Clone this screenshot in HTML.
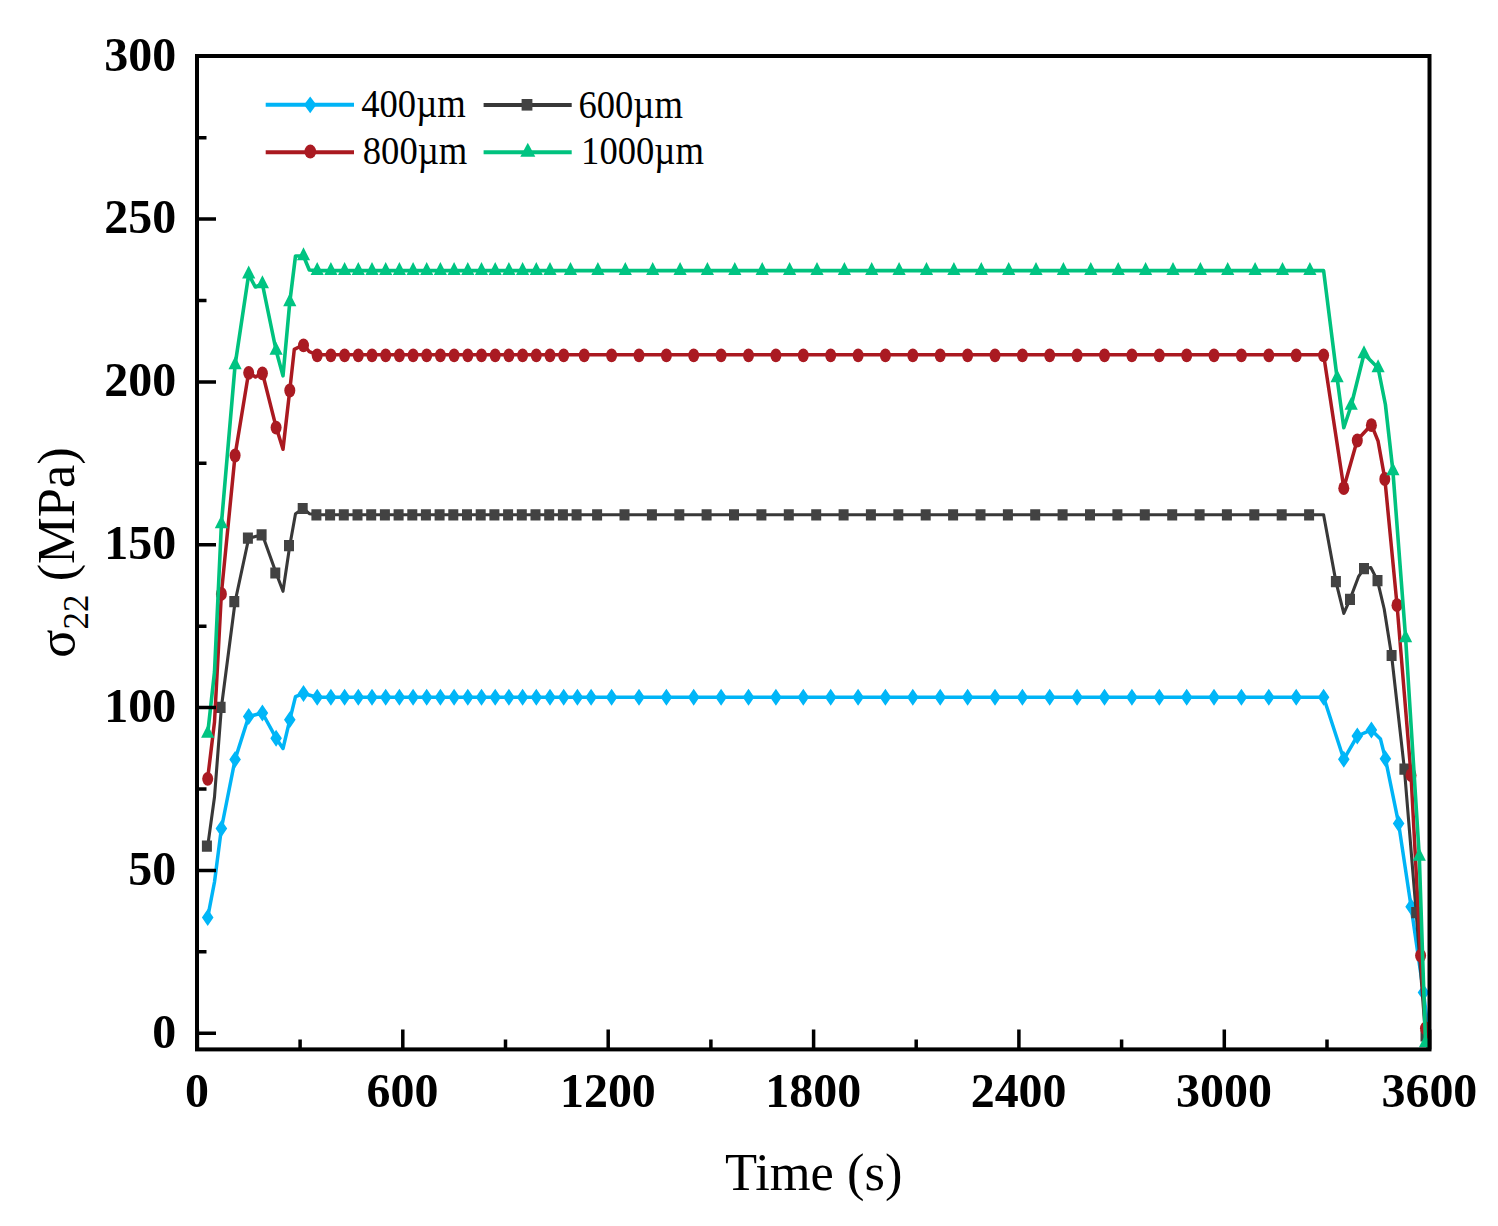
<!DOCTYPE html>
<html><head><meta charset="utf-8"><style>
html,body{margin:0;padding:0;background:#fff;}
svg{display:block;}
text{font-family:"Liberation Serif",serif;fill:#000;}
</style></head><body>
<svg width="1498" height="1226" viewBox="0 0 1498 1226">
<rect width="1498" height="1226" fill="#fff"/>
<defs><clipPath id="pc"><rect x="197.0" y="56.0" width="1232.5" height="993.4000000000001"/></clipPath></defs>
<g clip-path="url(#pc)">
<path d="M207.7 917.4L214.5 882.0L221.4 828.5L235.1 759.4L248.7 716.5L262.4 713.0L276.1 738.2L283.0 748.5L289.8 719.8L295.5 696.6L303.5 693.5L317.2 697.2L330.9 697.2L344.6 697.2L358.3 697.2L372.0 697.2L385.7 697.2L399.4 697.2L413.1 697.2L426.7 697.2L440.4 697.2L454.1 697.2L467.8 697.2L481.5 697.2L495.2 697.2L508.9 697.2L522.6 697.2L536.3 697.2L550.0 697.2L563.7 697.2L577.4 697.2L591.1 697.2L604.7 697.2L618.4 697.2L632.1 697.2L645.8 697.2L659.5 697.2L673.2 697.2L686.9 697.2L700.6 697.2L714.3 697.2L728.0 697.2L741.7 697.2L755.4 697.2L769.1 697.2L782.7 697.2L796.4 697.2L810.1 697.2L823.8 697.2L837.5 697.2L851.2 697.2L864.9 697.2L878.6 697.2L892.3 697.2L906.0 697.2L919.7 697.2L933.4 697.2L947.1 697.2L960.7 697.2L974.4 697.2L988.1 697.2L1001.8 697.2L1015.5 697.2L1029.2 697.2L1042.9 697.2L1056.6 697.2L1070.3 697.2L1084.0 697.2L1097.7 697.2L1111.4 697.2L1125.0 697.2L1138.7 697.2L1152.4 697.2L1166.1 697.2L1179.8 697.2L1193.5 697.2L1207.2 697.2L1220.9 697.2L1234.6 697.2L1248.3 697.2L1262.0 697.2L1275.7 697.2L1289.4 697.2L1303.0 697.2L1316.7 697.2L1323.6 697.2L1343.8 759.3L1357.3 736.0L1371.4 729.9L1380.5 739.1L1385.4 758.7L1398.6 823.4L1411.1 906.7L1423.5 992.5L1429.5 1040.0" fill="none" stroke="#00B4F6" stroke-width="3.5" stroke-linejoin="round"/>
<path fill="#00B6F8" d="M207.7 908.9L213.5 917.4L207.7 925.9L201.9 917.4ZM221.4 820.0L227.2 828.5L221.4 837.0L215.6 828.5ZM235.1 750.9L240.9 759.4L235.1 767.9L229.3 759.4ZM248.7 708.0L254.5 716.5L248.7 725.0L242.9 716.5ZM262.4 704.5L268.2 713.0L262.4 721.5L256.6 713.0ZM276.1 729.7L281.9 738.2L276.1 746.7L270.3 738.2ZM289.8 711.3L295.6 719.8L289.8 728.3L284.0 719.8ZM303.5 685.0L309.3 693.5L303.5 702.0L297.7 693.5ZM317.2 688.7L323.0 697.2L317.2 705.7L311.4 697.2ZM330.9 688.7L336.7 697.2L330.9 705.7L325.1 697.2ZM344.6 688.7L350.4 697.2L344.6 705.7L338.8 697.2ZM358.3 688.7L364.1 697.2L358.3 705.7L352.5 697.2ZM372.0 688.7L377.8 697.2L372.0 705.7L366.2 697.2ZM385.7 688.7L391.5 697.2L385.7 705.7L379.9 697.2ZM399.4 688.7L405.2 697.2L399.4 705.7L393.6 697.2ZM413.1 688.7L418.9 697.2L413.1 705.7L407.3 697.2ZM426.7 688.7L432.5 697.2L426.7 705.7L420.9 697.2ZM440.4 688.7L446.2 697.2L440.4 705.7L434.6 697.2ZM454.1 688.7L459.9 697.2L454.1 705.7L448.3 697.2ZM467.8 688.7L473.6 697.2L467.8 705.7L462.0 697.2ZM481.5 688.7L487.3 697.2L481.5 705.7L475.7 697.2ZM495.2 688.7L501.0 697.2L495.2 705.7L489.4 697.2ZM508.9 688.7L514.7 697.2L508.9 705.7L503.1 697.2ZM522.6 688.7L528.4 697.2L522.6 705.7L516.8 697.2ZM536.3 688.7L542.1 697.2L536.3 705.7L530.5 697.2ZM550.0 688.7L555.8 697.2L550.0 705.7L544.2 697.2ZM563.7 688.7L569.5 697.2L563.7 705.7L557.9 697.2ZM577.4 688.7L583.2 697.2L577.4 705.7L571.6 697.2ZM591.1 688.7L596.9 697.2L591.1 705.7L585.3 697.2ZM611.6 688.7L617.4 697.2L611.6 705.7L605.8 697.2ZM639.0 688.7L644.8 697.2L639.0 705.7L633.2 697.2ZM666.4 688.7L672.2 697.2L666.4 705.7L660.6 697.2ZM693.7 688.7L699.5 697.2L693.7 705.7L687.9 697.2ZM721.1 688.7L726.9 697.2L721.1 705.7L715.3 697.2ZM748.5 688.7L754.3 697.2L748.5 705.7L742.7 697.2ZM775.9 688.7L781.7 697.2L775.9 705.7L770.1 697.2ZM803.3 688.7L809.1 697.2L803.3 705.7L797.5 697.2ZM830.7 688.7L836.5 697.2L830.7 705.7L824.9 697.2ZM858.1 688.7L863.9 697.2L858.1 705.7L852.3 697.2ZM885.4 688.7L891.2 697.2L885.4 705.7L879.6 697.2ZM912.8 688.7L918.6 697.2L912.8 705.7L907.0 697.2ZM940.2 688.7L946.0 697.2L940.2 705.7L934.4 697.2ZM967.6 688.7L973.4 697.2L967.6 705.7L961.8 697.2ZM995.0 688.7L1000.8 697.2L995.0 705.7L989.2 697.2ZM1022.4 688.7L1028.2 697.2L1022.4 705.7L1016.6 697.2ZM1049.7 688.7L1055.5 697.2L1049.7 705.7L1043.9 697.2ZM1077.1 688.7L1082.9 697.2L1077.1 705.7L1071.3 697.2ZM1104.5 688.7L1110.3 697.2L1104.5 705.7L1098.7 697.2ZM1131.9 688.7L1137.7 697.2L1131.9 705.7L1126.1 697.2ZM1159.3 688.7L1165.1 697.2L1159.3 705.7L1153.5 697.2ZM1186.7 688.7L1192.5 697.2L1186.7 705.7L1180.9 697.2ZM1214.0 688.7L1219.8 697.2L1214.0 705.7L1208.2 697.2ZM1241.4 688.7L1247.2 697.2L1241.4 705.7L1235.6 697.2ZM1268.8 688.7L1274.6 697.2L1268.8 705.7L1263.0 697.2ZM1296.2 688.7L1302.0 697.2L1296.2 705.7L1290.4 697.2ZM1323.6 688.7L1329.4 697.2L1323.6 705.7L1317.8 697.2ZM1343.8 750.8L1349.6 759.3L1343.8 767.8L1338.0 759.3ZM1357.3 727.5L1363.1 736.0L1357.3 744.5L1351.5 736.0ZM1371.4 721.4L1377.2 729.9L1371.4 738.4L1365.6 729.9ZM1385.4 750.2L1391.2 758.7L1385.4 767.2L1379.6 758.7ZM1398.6 814.9L1404.4 823.4L1398.6 831.9L1392.8 823.4ZM1411.1 898.2L1416.9 906.7L1411.1 915.2L1405.3 906.7ZM1423.5 984.0L1429.3 992.5L1423.5 1001.0L1417.7 992.5Z"/>
<path d="M207.7 846.2L214.5 797.0L221.4 707.3L235.1 601.7L248.7 538.2L262.4 534.8L276.1 573.0L283.0 591.3L289.8 545.6L295.5 513.7L303.5 508.5L309.3 513.7L317.2 514.8L330.9 514.8L344.6 514.8L358.3 514.8L372.0 514.8L385.7 514.8L399.4 514.8L413.1 514.8L426.7 514.8L440.4 514.8L454.1 514.8L467.8 514.8L481.5 514.8L495.2 514.8L508.9 514.8L522.6 514.8L536.3 514.8L550.0 514.8L563.7 514.8L577.4 514.8L591.1 514.8L604.7 514.8L618.4 514.8L632.1 514.8L645.8 514.8L659.5 514.8L673.2 514.8L686.9 514.8L700.6 514.8L714.3 514.8L728.0 514.8L741.7 514.8L755.4 514.8L769.1 514.8L782.7 514.8L796.4 514.8L810.1 514.8L823.8 514.8L837.5 514.8L851.2 514.8L864.9 514.8L878.6 514.8L892.3 514.8L906.0 514.8L919.7 514.8L933.4 514.8L947.1 514.8L960.7 514.8L974.4 514.8L988.1 514.8L1001.8 514.8L1015.5 514.8L1029.2 514.8L1042.9 514.8L1056.6 514.8L1070.3 514.8L1084.0 514.8L1097.7 514.8L1111.4 514.8L1125.0 514.8L1138.7 514.8L1152.4 514.8L1166.1 514.8L1179.8 514.8L1193.5 514.8L1207.2 514.8L1220.9 514.8L1234.6 514.8L1248.3 514.8L1262.0 514.8L1275.7 514.8L1289.4 514.8L1303.0 514.8L1316.7 514.8L1323.6 514.8L1335.9 581.6L1343.8 613.4L1350.0 599.3L1358.5 576.7L1364.0 568.7L1370.8 567.5L1377.5 580.6L1384.2 609.0L1391.6 655.5L1404.4 769.1L1416.2 912.6L1425.5 1035.8L1429.5 1045.0" fill="none" stroke="#383838" stroke-width="3.1" stroke-linejoin="round"/>
<path fill="#424242" d="M201.9 840.6h10.0v11.2h-10.0ZM215.6 701.7h10.0v11.2h-10.0ZM229.3 596.1h10.0v11.2h-10.0ZM242.9 532.6h10.0v11.2h-10.0ZM256.6 529.2h10.0v11.2h-10.0ZM270.3 567.4h10.0v11.2h-10.0ZM284.0 540.0h10.0v11.2h-10.0ZM297.7 502.9h10.0v11.2h-10.0ZM311.4 509.2h10.0v11.2h-10.0ZM325.1 509.2h10.0v11.2h-10.0ZM338.8 509.2h10.0v11.2h-10.0ZM352.5 509.2h10.0v11.2h-10.0ZM366.2 509.2h10.0v11.2h-10.0ZM379.9 509.2h10.0v11.2h-10.0ZM393.6 509.2h10.0v11.2h-10.0ZM407.3 509.2h10.0v11.2h-10.0ZM420.9 509.2h10.0v11.2h-10.0ZM434.6 509.2h10.0v11.2h-10.0ZM448.3 509.2h10.0v11.2h-10.0ZM462.0 509.2h10.0v11.2h-10.0ZM475.7 509.2h10.0v11.2h-10.0ZM489.4 509.2h10.0v11.2h-10.0ZM503.1 509.2h10.0v11.2h-10.0ZM516.8 509.2h10.0v11.2h-10.0ZM530.5 509.2h10.0v11.2h-10.0ZM544.2 509.2h10.0v11.2h-10.0ZM557.9 509.2h10.0v11.2h-10.0ZM571.6 509.2h10.0v11.2h-10.0ZM592.1 509.2h10.0v11.2h-10.0ZM619.5 509.2h10.0v11.2h-10.0ZM646.9 509.2h10.0v11.2h-10.0ZM674.3 509.2h10.0v11.2h-10.0ZM701.6 509.2h10.0v11.2h-10.0ZM729.0 509.2h10.0v11.2h-10.0ZM756.4 509.2h10.0v11.2h-10.0ZM783.8 509.2h10.0v11.2h-10.0ZM811.2 509.2h10.0v11.2h-10.0ZM838.6 509.2h10.0v11.2h-10.0ZM865.9 509.2h10.0v11.2h-10.0ZM893.3 509.2h10.0v11.2h-10.0ZM920.7 509.2h10.0v11.2h-10.0ZM948.1 509.2h10.0v11.2h-10.0ZM975.5 509.2h10.0v11.2h-10.0ZM1002.9 509.2h10.0v11.2h-10.0ZM1030.2 509.2h10.0v11.2h-10.0ZM1057.6 509.2h10.0v11.2h-10.0ZM1085.0 509.2h10.0v11.2h-10.0ZM1112.4 509.2h10.0v11.2h-10.0ZM1139.8 509.2h10.0v11.2h-10.0ZM1167.2 509.2h10.0v11.2h-10.0ZM1194.6 509.2h10.0v11.2h-10.0ZM1221.9 509.2h10.0v11.2h-10.0ZM1249.3 509.2h10.0v11.2h-10.0ZM1276.7 509.2h10.0v11.2h-10.0ZM1304.1 509.2h10.0v11.2h-10.0ZM1330.9 576.0h10.0v11.2h-10.0ZM1345.0 593.7h10.0v11.2h-10.0ZM1359.0 563.1h10.0v11.2h-10.0ZM1372.5 575.0h10.0v11.2h-10.0ZM1386.6 649.9h10.0v11.2h-10.0ZM1399.4 763.5h10.0v11.2h-10.0ZM1411.2 907.0h10.0v11.2h-10.0ZM1420.5 1030.2h10.0v11.2h-10.0Z"/>
<path d="M207.7 778.3L214.5 722.0L221.4 593.4L235.1 455.0L248.7 372.3L255.5 377.0L262.4 372.8L276.1 427.1L283.0 449.3L289.8 390.0L294.3 349.4L303.5 344.8L309.3 351.7L317.2 354.8L330.9 354.8L344.6 354.8L358.3 354.8L372.0 354.8L385.7 354.8L399.4 354.8L413.1 354.8L426.7 354.8L440.4 354.8L454.1 354.8L467.8 354.8L481.5 354.8L495.2 354.8L508.9 354.8L522.6 354.8L536.3 354.8L550.0 354.8L563.7 354.8L577.4 354.8L591.1 354.8L604.7 354.8L618.4 354.8L632.1 354.8L645.8 354.8L659.5 354.8L673.2 354.8L686.9 354.8L700.6 354.8L714.3 354.8L728.0 354.8L741.7 354.8L755.4 354.8L769.1 354.8L782.7 354.8L796.4 354.8L810.1 354.8L823.8 354.8L837.5 354.8L851.2 354.8L864.9 354.8L878.6 354.8L892.3 354.8L906.0 354.8L919.7 354.8L933.4 354.8L947.1 354.8L960.7 354.8L974.4 354.8L988.1 354.8L1001.8 354.8L1015.5 354.8L1029.2 354.8L1042.9 354.8L1056.6 354.8L1070.3 354.8L1084.0 354.8L1097.7 354.8L1111.4 354.8L1125.0 354.8L1138.7 354.8L1152.4 354.8L1166.1 354.8L1179.8 354.8L1193.5 354.8L1207.2 354.8L1220.9 354.8L1234.6 354.8L1248.3 354.8L1262.0 354.8L1275.7 354.8L1289.4 354.8L1303.0 354.8L1316.7 354.8L1323.6 354.8L1343.8 487.7L1357.3 440.0L1371.4 424.7L1378.1 441.2L1384.8 478.5L1397.0 604.7L1411.0 774.7L1420.6 955.1L1425.5 1027.8L1429.5 1045.0" fill="none" stroke="#AA1920" stroke-width="3.5" stroke-linejoin="round"/>
<g fill="#AA1A22"><ellipse cx="207.7" cy="778.8" rx="5.5" ry="6.9"/><ellipse cx="221.4" cy="593.9" rx="5.5" ry="6.9"/><ellipse cx="235.1" cy="455.5" rx="5.5" ry="6.9"/><ellipse cx="248.7" cy="372.8" rx="5.5" ry="6.9"/><ellipse cx="262.4" cy="373.3" rx="5.5" ry="6.9"/><ellipse cx="276.1" cy="427.6" rx="5.5" ry="6.9"/><ellipse cx="289.8" cy="390.5" rx="5.5" ry="6.9"/><ellipse cx="303.5" cy="345.3" rx="5.5" ry="6.9"/><ellipse cx="317.2" cy="355.3" rx="5.5" ry="6.9"/><ellipse cx="330.9" cy="355.3" rx="5.5" ry="6.9"/><ellipse cx="344.6" cy="355.3" rx="5.5" ry="6.9"/><ellipse cx="358.3" cy="355.3" rx="5.5" ry="6.9"/><ellipse cx="372.0" cy="355.3" rx="5.5" ry="6.9"/><ellipse cx="385.7" cy="355.3" rx="5.5" ry="6.9"/><ellipse cx="399.4" cy="355.3" rx="5.5" ry="6.9"/><ellipse cx="413.1" cy="355.3" rx="5.5" ry="6.9"/><ellipse cx="426.7" cy="355.3" rx="5.5" ry="6.9"/><ellipse cx="440.4" cy="355.3" rx="5.5" ry="6.9"/><ellipse cx="454.1" cy="355.3" rx="5.5" ry="6.9"/><ellipse cx="467.8" cy="355.3" rx="5.5" ry="6.9"/><ellipse cx="481.5" cy="355.3" rx="5.5" ry="6.9"/><ellipse cx="495.2" cy="355.3" rx="5.5" ry="6.9"/><ellipse cx="508.9" cy="355.3" rx="5.5" ry="6.9"/><ellipse cx="522.6" cy="355.3" rx="5.5" ry="6.9"/><ellipse cx="536.3" cy="355.3" rx="5.5" ry="6.9"/><ellipse cx="550.0" cy="355.3" rx="5.5" ry="6.9"/><ellipse cx="563.7" cy="355.3" rx="5.5" ry="6.9"/><ellipse cx="584.2" cy="355.3" rx="5.5" ry="6.9"/><ellipse cx="611.6" cy="355.3" rx="5.5" ry="6.9"/><ellipse cx="639.0" cy="355.3" rx="5.5" ry="6.9"/><ellipse cx="666.4" cy="355.3" rx="5.5" ry="6.9"/><ellipse cx="693.7" cy="355.3" rx="5.5" ry="6.9"/><ellipse cx="721.1" cy="355.3" rx="5.5" ry="6.9"/><ellipse cx="748.5" cy="355.3" rx="5.5" ry="6.9"/><ellipse cx="775.9" cy="355.3" rx="5.5" ry="6.9"/><ellipse cx="803.3" cy="355.3" rx="5.5" ry="6.9"/><ellipse cx="830.7" cy="355.3" rx="5.5" ry="6.9"/><ellipse cx="858.1" cy="355.3" rx="5.5" ry="6.9"/><ellipse cx="885.4" cy="355.3" rx="5.5" ry="6.9"/><ellipse cx="912.8" cy="355.3" rx="5.5" ry="6.9"/><ellipse cx="940.2" cy="355.3" rx="5.5" ry="6.9"/><ellipse cx="967.6" cy="355.3" rx="5.5" ry="6.9"/><ellipse cx="995.0" cy="355.3" rx="5.5" ry="6.9"/><ellipse cx="1022.4" cy="355.3" rx="5.5" ry="6.9"/><ellipse cx="1049.7" cy="355.3" rx="5.5" ry="6.9"/><ellipse cx="1077.1" cy="355.3" rx="5.5" ry="6.9"/><ellipse cx="1104.5" cy="355.3" rx="5.5" ry="6.9"/><ellipse cx="1131.9" cy="355.3" rx="5.5" ry="6.9"/><ellipse cx="1159.3" cy="355.3" rx="5.5" ry="6.9"/><ellipse cx="1186.7" cy="355.3" rx="5.5" ry="6.9"/><ellipse cx="1214.0" cy="355.3" rx="5.5" ry="6.9"/><ellipse cx="1241.4" cy="355.3" rx="5.5" ry="6.9"/><ellipse cx="1268.8" cy="355.3" rx="5.5" ry="6.9"/><ellipse cx="1296.2" cy="355.3" rx="5.5" ry="6.9"/><ellipse cx="1323.6" cy="355.3" rx="5.5" ry="6.9"/><ellipse cx="1343.8" cy="488.2" rx="5.5" ry="6.9"/><ellipse cx="1357.3" cy="440.5" rx="5.5" ry="6.9"/><ellipse cx="1371.4" cy="425.2" rx="5.5" ry="6.9"/><ellipse cx="1384.8" cy="479.0" rx="5.5" ry="6.9"/><ellipse cx="1397.0" cy="605.2" rx="5.5" ry="6.9"/><ellipse cx="1411.0" cy="775.2" rx="5.5" ry="6.9"/><ellipse cx="1420.6" cy="955.6" rx="5.5" ry="6.9"/><ellipse cx="1425.5" cy="1028.3" rx="5.5" ry="6.9"/></g>
<path d="M207.7 733.5L214.5 672.0L221.4 524.0L235.1 365.0L248.7 274.3L255.3 287.0L262.4 284.0L276.1 350.5L283.0 375.8L289.8 302.0L295.5 256.0L303.5 256.0L309.3 270.0L317.2 270.6L330.9 270.6L344.6 270.6L358.3 270.6L372.0 270.6L385.7 270.6L399.4 270.6L413.1 270.6L426.7 270.6L440.4 270.6L454.1 270.6L467.8 270.6L481.5 270.6L495.2 270.6L508.9 270.6L522.6 270.6L536.3 270.6L550.0 270.6L563.7 270.6L577.4 270.6L591.1 270.6L604.7 270.6L618.4 270.6L632.1 270.6L645.8 270.6L659.5 270.6L673.2 270.6L686.9 270.6L700.6 270.6L714.3 270.6L728.0 270.6L741.7 270.6L755.4 270.6L769.1 270.6L782.7 270.6L796.4 270.6L810.1 270.6L823.8 270.6L837.5 270.6L851.2 270.6L864.9 270.6L878.6 270.6L892.3 270.6L906.0 270.6L919.7 270.6L933.4 270.6L947.1 270.6L960.7 270.6L974.4 270.6L988.1 270.6L1001.8 270.6L1015.5 270.6L1029.2 270.6L1042.9 270.6L1056.6 270.6L1070.3 270.6L1084.0 270.6L1097.7 270.6L1111.4 270.6L1125.0 270.6L1138.7 270.6L1152.4 270.6L1166.1 270.6L1179.8 270.6L1193.5 270.6L1207.2 270.6L1220.9 270.6L1234.6 270.6L1248.3 270.6L1262.0 270.6L1275.7 270.6L1289.4 270.6L1303.0 270.6L1316.7 270.6L1323.6 270.6L1337.1 378.0L1343.8 427.7L1351.2 405.5L1364.0 354.0L1378.1 368.0L1385.4 404.5L1392.9 471.0L1405.6 638.0L1419.3 856.5L1425.5 1043.0L1429.5 1050.0" fill="none" stroke="#00C27E" stroke-width="3.6" stroke-linejoin="round"/>
<path fill="#00C482" d="M207.7 724.8L214.3 737.8L201.1 737.8ZM221.4 515.3L228.0 528.3L214.8 528.3ZM235.1 356.3L241.7 369.3L228.5 369.3ZM248.7 265.6L255.3 278.6L242.1 278.6ZM262.4 275.3L269.0 288.3L255.8 288.3ZM276.1 341.8L282.7 354.8L269.5 354.8ZM289.8 293.3L296.4 306.3L283.2 306.3ZM303.5 247.3L310.1 260.3L296.9 260.3ZM317.2 261.9L323.8 274.9L310.6 274.9ZM330.9 261.9L337.5 274.9L324.3 274.9ZM344.6 261.9L351.2 274.9L338.0 274.9ZM358.3 261.9L364.9 274.9L351.7 274.9ZM372.0 261.9L378.6 274.9L365.4 274.9ZM385.7 261.9L392.3 274.9L379.1 274.9ZM399.4 261.9L406.0 274.9L392.8 274.9ZM413.1 261.9L419.7 274.9L406.5 274.9ZM426.7 261.9L433.3 274.9L420.1 274.9ZM440.4 261.9L447.0 274.9L433.8 274.9ZM454.1 261.9L460.7 274.9L447.5 274.9ZM467.8 261.9L474.4 274.9L461.2 274.9ZM481.5 261.9L488.1 274.9L474.9 274.9ZM495.2 261.9L501.8 274.9L488.6 274.9ZM508.9 261.9L515.5 274.9L502.3 274.9ZM522.6 261.9L529.2 274.9L516.0 274.9ZM536.3 261.9L542.9 274.9L529.7 274.9ZM550.0 261.9L556.6 274.9L543.4 274.9ZM570.5 261.9L577.1 274.9L563.9 274.9ZM597.9 261.9L604.5 274.9L591.3 274.9ZM625.3 261.9L631.9 274.9L618.7 274.9ZM652.7 261.9L659.3 274.9L646.1 274.9ZM680.1 261.9L686.7 274.9L673.5 274.9ZM707.4 261.9L714.0 274.9L700.8 274.9ZM734.8 261.9L741.4 274.9L728.2 274.9ZM762.2 261.9L768.8 274.9L755.6 274.9ZM789.6 261.9L796.2 274.9L783.0 274.9ZM817.0 261.9L823.6 274.9L810.4 274.9ZM844.4 261.9L851.0 274.9L837.8 274.9ZM871.7 261.9L878.3 274.9L865.1 274.9ZM899.1 261.9L905.7 274.9L892.5 274.9ZM926.5 261.9L933.1 274.9L919.9 274.9ZM953.9 261.9L960.5 274.9L947.3 274.9ZM981.3 261.9L987.9 274.9L974.7 274.9ZM1008.7 261.9L1015.3 274.9L1002.1 274.9ZM1036.0 261.9L1042.6 274.9L1029.4 274.9ZM1063.4 261.9L1070.0 274.9L1056.8 274.9ZM1090.8 261.9L1097.4 274.9L1084.2 274.9ZM1118.2 261.9L1124.8 274.9L1111.6 274.9ZM1145.6 261.9L1152.2 274.9L1139.0 274.9ZM1173.0 261.9L1179.6 274.9L1166.4 274.9ZM1200.4 261.9L1207.0 274.9L1193.8 274.9ZM1227.7 261.9L1234.3 274.9L1221.1 274.9ZM1255.1 261.9L1261.7 274.9L1248.5 274.9ZM1282.5 261.9L1289.1 274.9L1275.9 274.9ZM1309.9 261.9L1316.5 274.9L1303.3 274.9ZM1337.1 369.3L1343.7 382.3L1330.5 382.3ZM1351.2 396.8L1357.8 409.8L1344.6 409.8ZM1364.0 345.3L1370.6 358.3L1357.4 358.3ZM1378.1 359.3L1384.7 372.3L1371.5 372.3ZM1392.9 462.3L1399.5 475.3L1386.3 475.3ZM1405.6 629.3L1412.2 642.3L1399.0 642.3ZM1419.3 847.8L1425.9 860.8L1412.7 860.8ZM1425.5 1034.3L1432.1 1047.3L1418.9 1047.3Z"/>
</g>
<path d="M197.0 1033.2h19M197.0 951.8h9.5M197.0 870.4h19M197.0 789.0h9.5M197.0 707.6h19M197.0 626.2h9.5M197.0 544.8h19M197.0 463.3h9.5M197.0 381.9h19M197.0 300.5h9.5M197.0 219.1h19M197.0 137.7h9.5M197.0 56.3h19M197.4 1049.4v-20M300.1 1049.4v-10M402.8 1049.4v-20M505.5 1049.4v-10M608.2 1049.4v-20M710.9 1049.4v-10M813.6 1049.4v-20M916.2 1049.4v-10M1018.9 1049.4v-20M1121.6 1049.4v-10M1224.3 1049.4v-20M1327.0 1049.4v-10M1429.7 1049.4v-20" stroke="#000" stroke-width="3.5" fill="none"/>
<rect x="197.0" y="56.0" width="1232.5" height="993.4000000000001" fill="none" stroke="#000" stroke-width="4"/>
<g font-weight="bold" font-size="47" text-anchor="end"><text transform="translate(176.1 1047.5) scale(1.02 1.04)">0</text><text transform="translate(176.1 884.7) scale(1.02 1.04)">50</text><text transform="translate(176.1 721.9) scale(1.02 1.04)">100</text><text transform="translate(176.1 559.1) scale(1.02 1.04)">150</text><text transform="translate(176.1 396.2) scale(1.02 1.04)">200</text><text transform="translate(176.1 233.4) scale(1.02 1.04)">250</text><text transform="translate(176.1 70.6) scale(1.02 1.04)">300</text></g>
<g font-weight="bold" font-size="47" text-anchor="middle"><text transform="translate(197.1 1107.3) scale(1.02 1.04)">0</text><text transform="translate(402.5 1107.3) scale(1.02 1.04)">600</text><text transform="translate(607.9 1107.3) scale(1.02 1.04)">1200</text><text transform="translate(813.3 1107.3) scale(1.02 1.04)">1800</text><text transform="translate(1018.6 1107.3) scale(1.02 1.04)">2400</text><text transform="translate(1224.0 1107.3) scale(1.02 1.04)">3000</text><text transform="translate(1429.4 1107.3) scale(1.02 1.04)">3600</text></g>
<text x="813.7" y="1189.8" font-size="52.5" text-anchor="middle">Time (s)</text>
<text transform="translate(73.9 552.5) rotate(-90)" font-size="52.5" text-anchor="middle">σ<tspan font-size="35" dy="14">22</tspan><tspan dy="-14"> (MPa)</tspan></text>
<path d="M265.7 104.8H354.0" stroke="#00B4F6" stroke-width="4"/><path fill="#00B6F8" d="M310.2 96.4L316.4 104.8L310.2 113.2L304.0 104.8Z"/><path d="M265.7 152.2H354.0" stroke="#AA1920" stroke-width="4"/><ellipse fill="#AA1A22" cx="310.3" cy="151.6" rx="5.9" ry="7.0"/><path d="M483.6 105.0H571.7" stroke="#383838" stroke-width="4"/><path fill="#424242" d="M521.6 99.0h10.8v11.6h-10.8Z"/><path d="M483.6 152.2H571.7" stroke="#00C27E" stroke-width="4"/><path fill="#00C482" d="M527.8 142.7L535.3 156.7L520.3 156.7Z"/><g font-size="37.4"><text transform="translate(361.2 117.4) scale(0.98 1.06)">400µm</text><text transform="translate(362.8 164.4) scale(0.98 1.06)">800µm</text><text transform="translate(578.4 117.6) scale(0.98 1.06)">600µm</text><text transform="translate(581.1 164.4) scale(0.98 1.06)">1000µm</text></g>
</svg>
</body></html>
